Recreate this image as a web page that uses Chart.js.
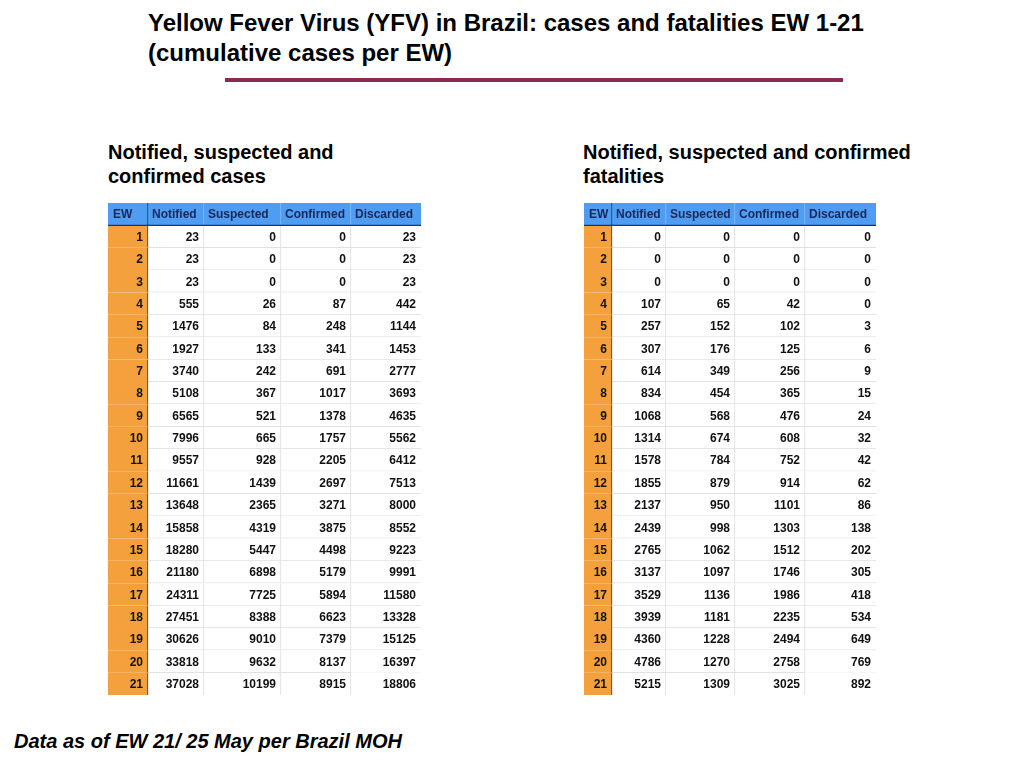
<!DOCTYPE html>
<html>
<head>
<meta charset="utf-8">
<script src="https://cdn.jsdelivr.net/npm/chart.js@4.4.1/dist/chart.umd.min.js"></script>
<style>
  html, body { margin: 0; padding: 0; background: #fff; }
  body { width: 1024px; height: 768px; position: relative; overflow: hidden; font-family: "Liberation Sans", Arial, sans-serif; }
  .title { position: absolute; left: 148px; top: 8px; font-size: 24px; line-height: 30px; font-weight: bold; color: #000; white-space: nowrap; }
  .rule { position: absolute; left: 225px; top: 78px; width: 618px; height: 4px; background: #8b2a4f; }
  .section { position: absolute; top: 140px; font-size: 20px; line-height: 24px; font-weight: bold; color: #000; white-space: nowrap; }
  .footer { position: absolute; left: 14px; top: 729px; font-size: 20px; line-height: 24px; font-weight: bold; font-style: italic; color: #000; white-space: nowrap; }
  .tbl { position: absolute; top: 203px; height: 492px; }
</style>
</head>
<body>
<div class="title">Yellow Fever Virus (YFV) in Brazil: cases and fatalities EW 1-21<br>(cumulative cases per EW)</div>
<div class="rule"></div>
<div class="section" style="left:108px">Notified, suspected and<br>confirmed cases</div>
<div class="section" style="left:583px">Notified, suspected and confirmed<br>fatalities</div>
<div class="tbl" style="left:108px; width:313px"><canvas id="casesTable"></canvas></div>
<div class="tbl" style="left:584px; width:292px"><canvas id="deathsTable"></canvas></div>
<div class="footer">Data as of EW 21/ 25 May per Brazil MOH</div>

<script>
// data
const columns = ["EW", "Notified", "Suspected", "Confirmed", "Discarded"];
const weeks = [1, 2, 3, 4, 5, 6, 7, 8, 9, 10, 11, 12, 13, 14, 15, 16, 17, 18, 19, 20, 21];

const casesNotified = [23, 23, 23, 555, 1476, 1927, 3740, 5108, 6565, 7996, 9557, 11661, 13648, 15858, 18280, 21180, 24311, 27451, 30626, 33818, 37028];
const casesSuspected = [0, 0, 0, 26, 84, 133, 242, 367, 521, 665, 928, 1439, 2365, 4319, 5447, 6898, 7725, 8388, 9010, 9632, 10199];
const casesConfirmed = [0, 0, 0, 87, 248, 341, 691, 1017, 1378, 1757, 2205, 2697, 3271, 3875, 4498, 5179, 5894, 6623, 7379, 8137, 8915];
const casesDiscarded = [23, 23, 23, 442, 1144, 1453, 2777, 3693, 4635, 5562, 6412, 7513, 8000, 8552, 9223, 9991, 11580, 13328, 15125, 16397, 18806];

const deathsNotified = [0, 0, 0, 107, 257, 307, 614, 834, 1068, 1314, 1578, 1855, 2137, 2439, 2765, 3137, 3529, 3939, 4360, 4786, 5215];
const deathsSuspected = [0, 0, 0, 65, 152, 176, 349, 454, 568, 674, 784, 879, 950, 998, 1062, 1097, 1136, 1181, 1228, 1270, 1309];
const deathsConfirmed = [0, 0, 0, 42, 102, 125, 256, 365, 476, 608, 752, 914, 1101, 1303, 1512, 1746, 1986, 2235, 2494, 2758, 3025];
const deathsDiscarded = [0, 0, 0, 0, 3, 6, 9, 15, 24, 32, 42, 62, 86, 138, 202, 305, 418, 534, 649, 769, 892];

// layout: column widths in px
const casesColWidths = [40, 56, 77, 70, 70];
const deathsColWidths = [28, 54, 69, 70, 71];

const HEADER_BG = "#4f9df2";
const HEADER_TEXT = "#17285a";
const EW_BG = "#f3a03d";
const GRID = "#dcdcdc";

const cellText = {
  id: "cellText",
  afterDatasetsDraw(chart) {
    const ctx = chart.ctx;
    ctx.save();
    ctx.textBaseline = "middle";
    ctx.font = "bold 12px 'Liberation Sans', Arial, sans-serif";
    chart.data.datasets.forEach((ds, i) => {
      const meta = chart.getDatasetMeta(i);
      meta.data.forEach((bar, j) => {
        const { x, y, base } = bar.getProps(["x", "y", "base"], true);
        const label = String(ds.cellLabels[j]);
        if (j === 0) {
          ctx.fillStyle = HEADER_TEXT;
          ctx.textAlign = "left";
          ctx.fillText(label, Math.min(x, base) + (i === 0 ? 5 : 4), y + 1);
        } else {
          ctx.fillStyle = "#111111";
          ctx.textAlign = "right";
          ctx.fillText(label, Math.max(x, base) - 5, y + 1);
        }
      });
    });
    // darker line under the header row
    const yScale = chart.scales.y;
    const yLine = (yScale.getPixelForValue(0) + yScale.getPixelForValue(1)) / 2;
    ctx.strokeStyle = "#1f3566";
    ctx.lineWidth = 1.2;
    ctx.beginPath();
    ctx.moveTo(chart.chartArea.left, yLine);
    ctx.lineTo(chart.chartArea.right, yLine);
    ctx.stroke();
    ctx.restore();
  }
};

function makeTable(canvasId, colWidths, series) {
  const rows = ["header", ...weeks];
  const total = colWidths.reduce((a, b) => a + b, 0);
  const lastCol = columns.length - 1;
  const lastRow = rows.length - 1;

  const datasets = columns.map((name, c) => ({
    label: name,
    data: rows.map(() => colWidths[c]),
    cellLabels: [name, ...(c === 0 ? weeks : series[c - 1])],
    backgroundColor: ctx => ctx.dataIndex === 0 ? HEADER_BG : (c === 0 ? EW_BG : "#ffffff"),
    borderColor: ctx => {
      if (c === 0) return ctx.dataIndex === 0 ? "#1f3566" : "#4a3a2a";
      return ctx.dataIndex === 0 ? "#86bdf7" : GRID;
    },
    borderWidth: ctx => {
      const right = c === lastCol ? 0 : 1;
      if (c === 0) return { top: 0, left: 0, bottom: 0, right: 1 };
      if (ctx.dataIndex === 0 || ctx.dataIndex === lastRow) return { top: 0, left: 0, bottom: 0, right };
      return { top: 0, left: 0, bottom: 1, right };
    },
    borderSkipped: false,
    barPercentage: 1,
    categoryPercentage: 1
  }));

  new Chart(document.getElementById(canvasId), {
    type: "bar",
    data: { labels: rows, datasets },
    options: {
      indexAxis: "y",
      responsive: true,
      maintainAspectRatio: false,
      animation: false,
      layout: { padding: 0 },
      plugins: { legend: { display: false }, tooltip: { enabled: false } },
      scales: {
        x: { type: "linear", stacked: true, min: 0, max: total, display: false },
        y: { type: "category", stacked: true, display: false, offset: true }
      }
    },
    plugins: [cellText]
  });
}

makeTable("casesTable", casesColWidths, [casesNotified, casesSuspected, casesConfirmed, casesDiscarded]);
makeTable("deathsTable", deathsColWidths, [deathsNotified, deathsSuspected, deathsConfirmed, deathsDiscarded]);
</script>
</body>
</html>
